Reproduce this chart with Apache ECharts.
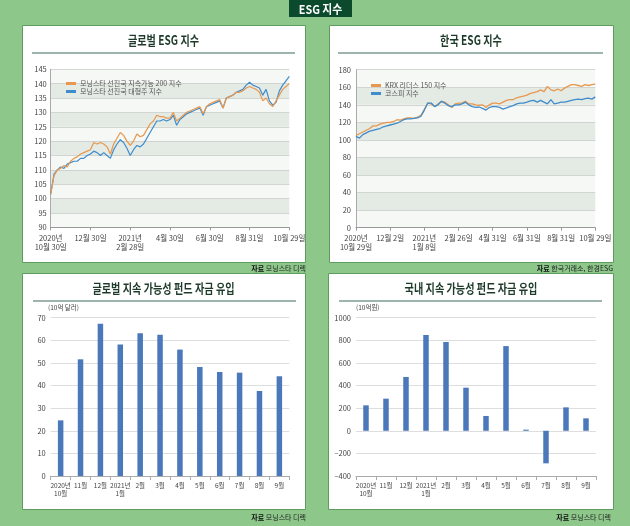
<!DOCTYPE html>
<html><head><meta charset="utf-8">
<script src="https://cdn.jsdelivr.net/npm/echarts@6/dist/echarts.min.js"></script>
<style>html,body{margin:0;padding:0;background:#8dc78a;}#c{width:630px;height:526px;}</style>
</head><body><div id="c"></div><script>
// ---- data ----
const tlTicks = ['2020년\n10월 30일','12월 30일','2021년\n2월 28일','4월 30일','6월 30일','8월 31일','10월 29일'];
const tlSustain200 = [101.5,108,110,110.5,111.5,111,113,114,114.5,115.5,116,116.5,117,119.5,119,119.5,119,118,115.5,119,121,123,122,120,118.5,120,122.5,121.5,122,124,126,127,129,128.5,128.5,128,128,130,127,128,129,130,130.5,131,131.5,132,129.5,132,133,133.5,134,134.5,131.5,135,135.5,136,137,137,137.5,138.5,139,138.5,138,137,134,135,133,132,134,136,138,139,140];
const tlLargeCap = [101.5,108.5,110,111,110.5,112,112.5,113,113,114,114,115,115.5,116.5,116,115,116,115,114,117,119,120.5,119.5,117.5,115,117,118.5,118,119,121,123,125,127,127,127.5,127,127.5,129,125.5,127.5,128.5,129.5,130,130.5,131,131.5,129,132,132.5,133,133.5,134,131.5,135,135.5,136,137,137.5,138,139.5,140.5,139.5,139,138.5,136,138,134,132.5,133.5,137.5,139.5,141,142.5];
const trTicks = ['2020년\n10월 29일','12월 2일','2021년\n1월 8일','2월 26일','4월 31일','6월 31일','8월 31일','10월 29일'];
const trKrx150 = [105,107,109,111,113,116,116,118,119,120,120,121,123,122.5,124,125,125,124.5,126,128,135,142,141,138,141,144,143,140,137,141,142,142,144,141,141,140,139.5,140,137,140,142,142,141,143,145,146,146,148,149,150,151,153,154,155,157,155,161,157,156,158,156,159,161,163,163,162,161,163,162,163,163.5];
const trKospi = [104,102,106,108,110,111,112,113,115,116,117,118,119,121,123,124,124,124.5,125,127,134,142,142,138,140,144,142,139,138,140,140,141,143,140,138,137,137.5,136,134,137,138,138,137,135,136.5,138,139,141,142,142,143,144.5,145,143,145,143,141,146,141,142,143,143,144,145,146,146.5,146,147,147.5,146.5,149];
const fundMonths = ['2020년\n10월','11월','12월','2021년\n1월','2월','3월','4월','5월','6월','7월','8월','9월'];
const globalInflow = [24.6,51.6,67.3,58.1,63.1,62.5,55.9,48.2,46,45.7,37.6,44.1];
const domesticInflow = [225,284,476,847,785,381,131,749,10,-288,207,110];

// ---- styles ----
const FONT = "'Noto Sans CJK KR','Noto Sans',sans-serif";
const ORANGE = '#e8984f', BLUE = '#3f8ccc', BAR = '#4a78ba';
const LBL = {fontFamily: FONT, fontSize: 7.5, color: '#444'};
const BANDS = ['#f5f8f4', '#e4eae4'];

function pairs(arr){ return arr.map((v,i)=>[i,v]); }
function panelTitle(x, y, text){
  return {type:'text', x:x, y:y, scaleX:0.78, z:5,
    style:{text:text, font:"bold 13px "+FONT, fill:'#1d3a2a', textAlign:'center', textVerticalAlign:'middle'}};
}
function sep(x1,x2,y){
  return {type:'line', z:5, shape:{x1:x1,y1:y,x2:x2,y2:y}, style:{stroke:'#7d9c8e', lineWidth:1.5}};
}
function source(x,y,text){
  return {type:'text', x:x, y:y, z:5,
    style:{text:'{b|자료} '+text, fontFamily:FONT, fontSize:7, fill:'#222', textAlign:'right', textVerticalAlign:'middle',
      rich:{b:{fontWeight:'bold', fontFamily:FONT, fontSize:7, fill:'#111'}}}};
}
function panel(x,y,w,h){
  return {type:'rect', z:-10, shape:{x:x,y:y,width:w,height:h}, style:{fill:'#ffffff', stroke:'#5f9c60', lineWidth:1}};
}

const chart = echarts.init(document.getElementById('c'), null, {renderer:'canvas'});
chart.setOption({
  backgroundColor: '#8dc78a',
  animation: false,
  graphic: [
    panel(22.5,25.5,283,237), panel(329.5,25.5,284,237),
    panel(22.5,273.5,283,236), panel(328.5,273.5,285,236),
    {type:'rect', z:5, shape:{x:289,y:0,width:63,height:17}, style:{fill:'#0b4a2c'}},
    {type:'text', x:320.5, y:9, scaleX:0.9, z:6, style:{text:'ESG 지수', font:"bold 12px "+FONT, fill:'#ffffff', textAlign:'center', textVerticalAlign:'middle'}},
    panelTitle(163.5,40,'글로벌 ESG 지수'), sep(32,295,53),
    panelTitle(471,40,'한국 ESG 지수'), sep(338,603,53),
    panelTitle(163.5,288,'글로벌 지속 가능성 펀드 자금 유입'), sep(33,296,301),
    panelTitle(471,288,'국내 지속 가능성 펀드 자금 유입'), sep(339,602,301),
    source(306,268,'모닝스타 디렉'), source(613,268,'한국거래소, 한경ESG'),
    source(306,517,'모닝스타 디렉'), source(611,517,'모닝스타 디렉'),
    {type:'text', x:48, y:308, z:5, style:{text:'(10억 달러)', fontFamily:FONT, fontSize:6.5, fill:'#444', textVerticalAlign:'middle'}},
    {type:'text', x:356, y:308, z:5, style:{text:'(10억원)', fontFamily:FONT, fontSize:6.5, fill:'#444', textVerticalAlign:'middle'}}
  ],
  legend: [
    {left:61, top:75, orient:'vertical', itemGap:1, itemWidth:10, itemHeight:3, icon:'rect',
     data:['모닝스타 선진국 지속가능 200 지수','모닝스타 선진국 대형주 지수'],
     textStyle:{fontFamily:FONT, fontSize:7, color:'#555', padding:[0,0,0,-1]}},
    {left:366, top:77, orient:'vertical', itemGap:1, itemWidth:10, itemHeight:3, icon:'rect',
     data:['KRX 리더스 150 지수','코스피 지수'],
     textStyle:{fontFamily:FONT, fontSize:7, color:'#555', padding:[0,0,0,-1]}}
  ],
  grid: [
    {left:50.7, top:69.3, width:238.6, height:158},
    {left:356, top:69.7, width:239.3, height:158},
    {left:50.7, top:317.7, width:238.6, height:158.3},
    {left:356, top:317.7, width:240, height:158.3}
  ],
  xAxis: [
    {gridIndex:0, type:'value', min:0, max:72, interval:12,
     axisLine:{lineStyle:{color:'#999'}}, axisTick:{show:true, length:3, lineStyle:{color:'#999'}},
     splitLine:{show:false},
     axisLabel:Object.assign({margin:6, lineHeight:9, showMinLabel:true, showMaxLabel:true,
       formatter:v=>tlTicks[Math.round(v/12)]}, LBL)},
    {gridIndex:1, type:'value', min:0, max:70, interval:10,
     axisLine:{lineStyle:{color:'#999'}}, axisTick:{show:true, length:3, lineStyle:{color:'#999'}},
     splitLine:{show:false},
     axisLabel:Object.assign({margin:6, lineHeight:9, showMinLabel:true, showMaxLabel:true,
       formatter:v=>trTicks[Math.round(v/10)]}, LBL)},
    {gridIndex:2, type:'category', data:fundMonths,
     axisLine:{lineStyle:{color:'#aaa'}}, axisTick:{show:true, length:4, lineStyle:{color:'#aaa'}},
     axisLabel:Object.assign({margin:6, lineHeight:8, interval:0}, LBL, {fontSize:6.5})},
    {gridIndex:3, type:'category', data:fundMonths,
     axisLine:{onZero:false, lineStyle:{color:'#aaa'}}, axisTick:{show:true, length:4, lineStyle:{color:'#aaa'}},
     axisLabel:Object.assign({margin:6, lineHeight:8, interval:0}, LBL, {fontSize:6.5})}
  ],
  yAxis: [
    {gridIndex:0, type:'value', min:90, max:145, interval:5,
     axisLine:{show:true, lineStyle:{color:'#aaa'}}, axisTick:{show:false},
     splitLine:{lineStyle:{color:'#c9cdc9', width:0.8}},
     splitArea:{show:true, areaStyle:{color:BANDS}},
     axisLabel:Object.assign({margin:4}, LBL)},
    {gridIndex:1, type:'value', min:0, max:180, interval:20,
     axisLine:{show:true, lineStyle:{color:'#aaa'}}, axisTick:{show:false},
     splitLine:{lineStyle:{color:'#c9cdc9', width:0.8}},
     splitArea:{show:true, areaStyle:{color:BANDS}},
     axisLabel:Object.assign({margin:5}, LBL)},
    {gridIndex:2, type:'value', min:0, max:70, interval:10,
     axisLine:{show:false}, axisTick:{show:false},
     splitLine:{lineStyle:{color:'#d6d6d6', width:0.8}},
     axisLabel:Object.assign({margin:5}, LBL)},
    {gridIndex:3, type:'value', min:-400, max:1000, interval:200,
     axisLine:{show:false}, axisTick:{show:false},
     splitLine:{lineStyle:{color:'#d6d6d6', width:0.8}},
     axisLabel:Object.assign({margin:5, formatter:v=>String(v).replace('-','–')}, LBL)}
  ],
  series: [
    {name:'모닝스타 선진국 지속가능 200 지수', type:'line', xAxisIndex:0, yAxisIndex:0, data:pairs(tlSustain200),
     showSymbol:false, color:ORANGE, lineStyle:{width:1.2}, z:3},
    {name:'모닝스타 선진국 대형주 지수', type:'line', xAxisIndex:0, yAxisIndex:0, data:pairs(tlLargeCap),
     showSymbol:false, color:BLUE, lineStyle:{width:1.2}, z:2},
    {name:'KRX 리더스 150 지수', type:'line', xAxisIndex:1, yAxisIndex:1, data:pairs(trKrx150),
     showSymbol:false, color:ORANGE, lineStyle:{width:1.3}},
    {name:'코스피 지수', type:'line', xAxisIndex:1, yAxisIndex:1, data:pairs(trKospi),
     showSymbol:false, color:BLUE, lineStyle:{width:1.3}},
    {name:'글로벌 유입', type:'bar', xAxisIndex:2, yAxisIndex:2, data:globalInflow, barWidth:5.5, color:BAR},
    {name:'국내 유입', type:'bar', xAxisIndex:3, yAxisIndex:3, data:domesticInflow, barWidth:5.5, color:BAR}
  ]
});
</script></body></html>
